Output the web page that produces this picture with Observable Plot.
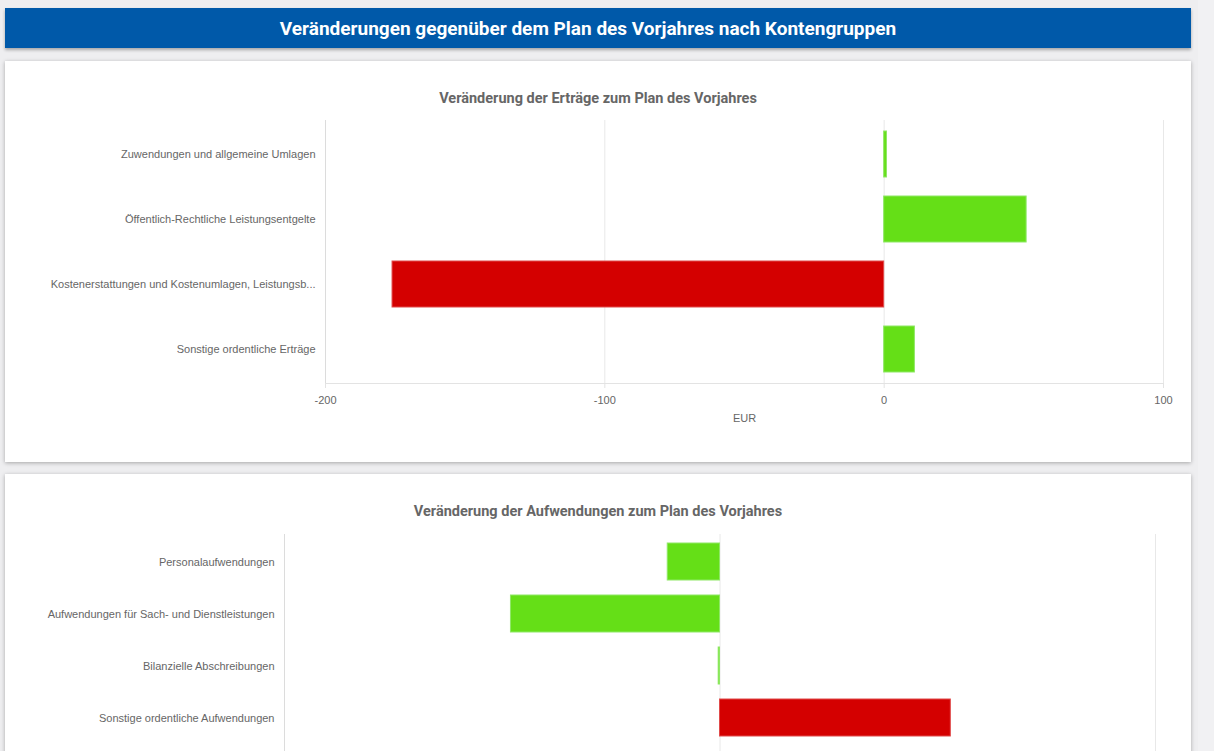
<!DOCTYPE html>
<html><head><meta charset="utf-8">
<script src="https://cdn.jsdelivr.net/npm/d3@7"></script>
<script src="https://cdn.jsdelivr.net/npm/@observablehq/plot@0.6"></script>
<style>
html,body{margin:0;padding:0;background:#eeeef0;overflow:hidden;width:1214px;height:751px}
#page{position:relative;width:1214px;height:751px;overflow:hidden}
.scroll{position:absolute;left:1198px;top:0;width:16px;height:751px;background:#f1f1f3}
.header{position:absolute;left:5px;top:8px;width:1186px;height:40px;background:#0059a9;color:#fff;font:700 19px Roboto,sans-serif;display:flex;align-items:center;justify-content:center;box-sizing:border-box;padding-right:20px;box-shadow:0 2px 3px rgba(0,0,0,.3)}
.card{position:absolute;left:5px;width:1186px;background:#fff;box-shadow:0 1px 4px rgba(0,0,0,.3)}
.ctitle{position:absolute;top:29px;left:0;width:100%;text-align:center;font:700 14.5px/18px Roboto,sans-serif;color:#666}
.chart{position:absolute;left:0}
</style></head>
<body><div id="page">
<div class="scroll"></div>
<div class="header">Veränderungen gegenüber dem Plan des Vorjahres nach Kontengruppen</div>
<div class="card" style="top:61px;height:401px"><div class="ctitle">Veränderung der Erträge zum Plan des Vorjahres</div><div class="chart" id="c1" style="top:49px"></div></div>
<div class="card" style="top:474px;height:400px"><div class="ctitle">Veränderung der Aufwendungen zum Plan des Vorjahres</div><div class="chart" id="c2" style="top:50px"></div></div>
</div>
<script>
const ertragCategories = ["Zuwendungen und allgemeine Umlagen","Öffentlich-Rechtliche Leistungsentgelte","Kostenerstattungen und Kostenumlagen, Leistungsb...","Sonstige ordentliche Erträge"];
const ertragValues = [1, 51, -176, 11];
const ertragTicks = [-200, -100, 0, 100];

const aufwandCategories = ["Personalaufwendungen","Aufwendungen für Sach- und Dienstleistungen","Bilanzielle Abschreibungen","Sonstige ordentliche Aufwendungen"];
const aufwandValues = [-12, -48, -0.3, 53];
const aufwandTicks = [-100, 0, 100];

const GREEN = "#65df17", GREEN_S = "#8fe866", RED = "#d40000", RED_S = "#e04a4a";

function chart(cats, vals, ticks, positiveGood, opts) {
  const data = cats.map((c, i) => ({cat: c, value: vals[i]}));
  const good = d => positiveGood ? d.value >= 0 : d.value <= 0;
  const marks = [
    Plot.ruleX(ticks.slice(1), {stroke: "#e8e8e8"}),
    Plot.ruleX([ticks[0]], {stroke: "#dcdcdc"}),
    Plot.barX(data, {x: "value", y: "cat", fill: d => good(d) ? GREEN : RED, stroke: d => good(d) ? GREEN_S : RED_S, strokeWidth: 1}),
    Plot.axisY({tickSize: 0, tickPadding: 10, label: null, fill: "#666"})
  ];
  if (opts.xAxis) {
    marks.push(
      Plot.frame({anchor: "bottom", stroke: "#e3e3e3"}),
      Plot.axisX({ticks: ticks, tickFormat: d => String(d), tickSize: 5, tickPadding: 8, stroke: "#e3e3e3", fill: "#666", label: "EUR", labelAnchor: "center", labelArrow: "none", labelOffset: 38})
    );
  } else {
    marks.push(Plot.axisX({ticks: [], label: null}));
  }
  return Plot.plot({
    width: 1186, height: opts.height,
    marginTop: 10, marginBottom: opts.marginBottom, marginLeft: opts.marginLeft, marginRight: opts.marginRight,
    style: {fontFamily: "'Liberation Sans', Arial, sans-serif", fontSize: "11px", background: "transparent", color: "#666"},
    x: {domain: [ticks[0], ticks[ticks.length - 1]]},
    y: {domain: cats, paddingInner: opts.pi, paddingOuter: opts.po, align: opts.align, label: null},
    marks
  });
}

document.getElementById("c1").appendChild(chart(ertragCategories, ertragValues, ertragTicks, true, {height: 323, marginBottom: 50, marginLeft: 320, marginRight: 28, pi: 0.285, po: 0.1425, align: 0.5, xAxis: true}));
document.getElementById("c2").appendChild(chart(aufwandCategories, aufwandValues, aufwandTicks, false, {height: 236, marginBottom: 0, marginLeft: 279, marginRight: 36, pi: 0.288, po: 0.29, align: 0.262, xAxis: false}));
</script>
</body></html>
